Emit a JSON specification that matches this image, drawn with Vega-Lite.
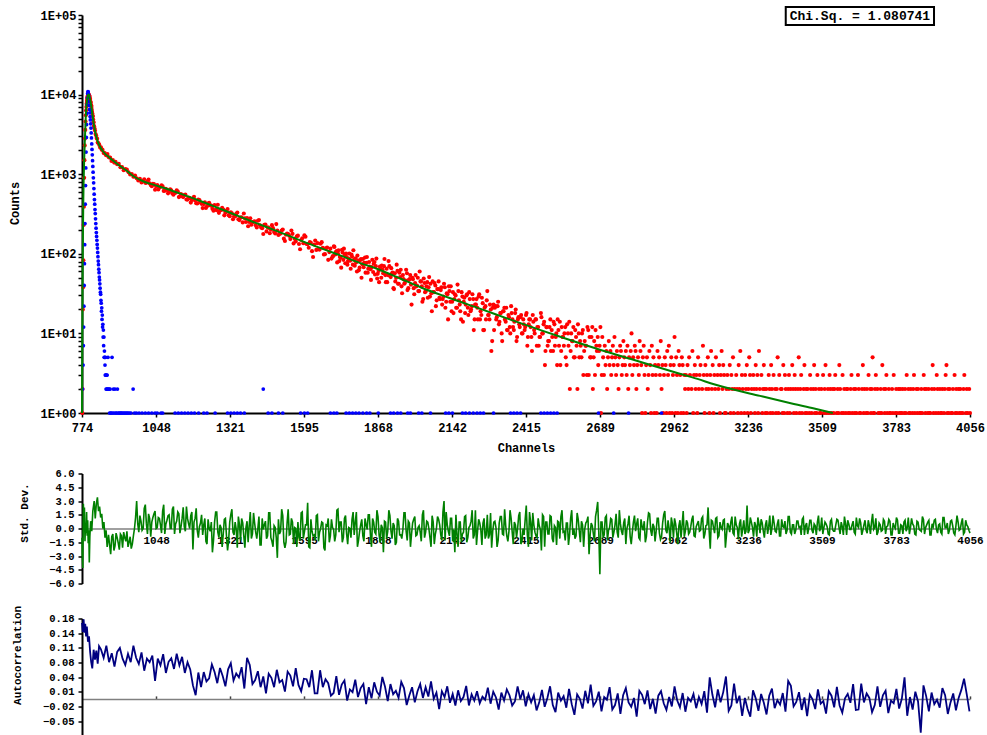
{
"$schema":"https://vega.github.io/schema/vega-lite/v6.json",
"background":"white",
"padding":{"left":8,"top":6,"right":2,"bottom":0},
"config":{"view":{"stroke":null},"font":"Liberation Mono",
"axis":{"labelFont":"Liberation Mono","titleFont":"Liberation Mono","labelFontWeight":"bold","titleFontWeight":"bold","labelColor":"#000000","titleColor":"#000000","domainColor":"#000000","tickColor":"#000000","grid":false,"labelOverlap":false,"labelFlush":false}},
"datasets":{
"decay":[{"c":775,"n":1},{"c":776,"n":2},{"c":777,"n":20},{"c":778,"n":38},{"c":779,"n":83},{"c":780,"n":230},{"c":781,"n":390},{"c":782,"n":900},{"c":783,"n":1500},{"c":784,"n":2300},{"c":785,"n":2800},{"c":786,"n":3600},{"c":787,"n":4600},{"c":788,"n":5500},{"c":789,"n":6300},{"c":790,"n":7000},{"c":791,"n":7700},{"c":792,"n":8300},{"c":793,"n":8800},{"c":794,"n":9200},{"c":795,"n":9500},{"c":796,"n":9800},{"c":797,"n":9900},{"c":798,"n":10100},{"c":799,"n":9950},{"c":800,"n":9800},{"c":801,"n":9700},{"c":802,"n":9370},{"c":803,"n":8950},{"c":804,"n":8820},{"c":805,"n":8200},{"c":806,"n":8020},{"c":807,"n":7450},{"c":808,"n":7350},{"c":809,"n":7000},{"c":810,"n":6470},{"c":811,"n":6100},{"c":812,"n":5840},{"c":813,"n":5450},{"c":814,"n":5330},{"c":815,"n":4900},{"c":816,"n":4540},{"c":817,"n":4460},{"c":818,"n":4060},{"c":819,"n":3970},{"c":820,"n":3790},{"c":822,"n":3550},{"c":824,"n":3200},{"c":826,"n":3080},{"c":828,"n":2840},{"c":830,"n":2780},{"c":832,"n":2500},{"c":835,"n":2440},{"c":838,"n":2335},{"c":841,"n":2160},{"c":844,"n":2180},{"c":847,"n":2030},{"c":850,"n":2020},{"c":854,"n":1840},{"c":858,"n":1840},{"c":863,"n":1735},{"c":868,"n":1790},{"c":873,"n":1635},{"c":878,"n":1615},{"c":883,"n":1465},{"c":888,"n":1505},{"c":893,"n":1400},{"c":898,"n":1427},{"c":904,"n":1332},{"c":910,"n":1348},{"c":916,"n":1222},{"c":922,"n":1228},{"c":928,"n":1122},{"c":934,"n":1160},{"c":940,"n":1140},{"c":946,"n":1058},{"c":952,"n":991},{"c":958,"n":1005},{"c":964,"n":928},{"c":970,"n":964},{"c":976,"n":890},{"c":982,"n":835},{"c":988,"n":873},{"c":994,"n":789},{"c":1000,"n":825},
{"c":1008,"n":779},{"c":1016,"n":817},{"c":1024,"n":769},{"c":1032,"n":705},{"c":1040,"n":750},{"c":1048,"n":701},{"c":1056,"n":644},{"c":1064,"n":694},{"c":1072,"n":702},{"c":1080,"n":620},{"c":1088,"n":632},{"c":1096,"n":602},{"c":1104,"n":626},{"c":1112,"n":551},{"c":1120,"n":586},{"c":1128,"n":607},{"c":1136,"n":529},{"c":1144,"n":530},{"c":1152,"n":548},{"c":1160,"n":481},{"c":1168,"n":508},{"c":1176,"n":440},{"c":1184,"n":492},{"c":1192,"n":468},{"c":1200,"n":429},{"c":1208,"n":474},{"c":1216,"n":424},{"c":1224,"n":421},{"c":1232,"n":377},{"c":1240,"n":428},{"c":1248,"n":406},{"c":1256,"n":367},{"c":1264,"n":411},{"c":1272,"n":354},{"c":1280,"n":327},{"c":1288,"n":356},{"c":1296,"n":359},{"c":1304,"n":329},{"c":1312,"n":366},{"c":1320,"n":296},{"c":1328,"n":323},{"c":1336,"n":295},{"c":1344,"n":319},{"c":1352,"n":271},{"c":1360,"n":286},{"c":1368,"n":248},{"c":1376,"n":279},{"c":1384,"n":282},{"c":1392,"n":251},{"c":1400,"n":232},{"c":1408,"n":253},{"c":1416,"n":228},{"c":1424,"n":260},{"c":1432,"n":228},{"c":1440,"n":210},{"c":1448,"n":231},{"c":1456,"n":191},{"c":1464,"n":212},{"c":1472,"n":201},{"c":1480,"n":210},{"c":1488,"n":180},{"c":1496,"n":196},{"c":1504,"n":178},{"c":1512,"n":196},{"c":1520,"n":155},{"c":1528,"n":174},{"c":1536,"n":177},{"c":1544,"n":153},{"c":1552,"n":178},{"c":1560,"n":154},{"c":1568,"n":166},{"c":1576,"n":133},{"c":1584,"n":149},{"c":1592,"n":136},{"c":1600,"n":164},{"c":1608,"n":132},{"c":1616,"n":140},{"c":1624,"n":108},{"c":1632,"n":131},{"c":1640,"n":112},{"c":1648,"n":114},{"c":1656,"n":134},{"c":1664,"n":119},{"c":1672,"n":99},{"c":1680,"n":120},{"c":1688,"n":105},{"c":1696,"n":87},
{"c":1004,"n":861},{"c":1012,"n":781},{"c":1020,"n":857},{"c":1028,"n":734},{"c":1036,"n":756},{"c":1044,"n":637},{"c":1052,"n":731},{"c":1060,"n":682},{"c":1068,"n":726},{"c":1076,"n":617},{"c":1084,"n":653},{"c":1092,"n":575},{"c":1100,"n":645},{"c":1108,"n":574},{"c":1116,"n":582},{"c":1124,"n":628},{"c":1132,"n":516},{"c":1140,"n":563},{"c":1148,"n":516},{"c":1156,"n":554},{"c":1164,"n":480},{"c":1172,"n":501},{"c":1180,"n":473},{"c":1188,"n":521},{"c":1196,"n":432},{"c":1204,"n":479},{"c":1212,"n":441},{"c":1220,"n":375},{"c":1228,"n":443},{"c":1236,"n":396},{"c":1244,"n":438},{"c":1252,"n":403},{"c":1260,"n":348},{"c":1268,"n":357},{"c":1276,"n":413},{"c":1284,"n":350},{"c":1292,"n":379},{"c":1300,"n":304},{"c":1308,"n":346},{"c":1316,"n":306},{"c":1324,"n":333},{"c":1332,"n":272},{"c":1340,"n":294},{"c":1348,"n":330},{"c":1356,"n":265},{"c":1364,"n":288},{"c":1372,"n":321},{"c":1380,"n":251},{"c":1388,"n":222},{"c":1396,"n":280},{"c":1404,"n":248},{"c":1412,"n":256},{"c":1420,"n":214},{"c":1428,"n":266},{"c":1436,"n":214},{"c":1444,"n":177},{"c":1452,"n":233},{"c":1460,"n":215},{"c":1468,"n":181},{"c":1476,"n":229},{"c":1484,"n":188},{"c":1492,"n":236},{"c":1500,"n":172},{"c":1508,"n":180},{"c":1516,"n":202},{"c":1524,"n":145},{"c":1532,"n":179},{"c":1540,"n":168},{"c":1548,"n":196},{"c":1556,"n":135},{"c":1564,"n":143},{"c":1572,"n":169},{"c":1580,"n":114},{"c":1588,"n":157},{"c":1596,"n":171},{"c":1604,"n":133},{"c":1612,"n":119},{"c":1620,"n":137},{"c":1628,"n":91},{"c":1636,"n":147},{"c":1644,"n":136},{"c":1652,"n":113},{"c":1660,"n":140},{"c":1668,"n":98},{"c":1676,"n":117},{"c":1684,"n":84},{"c":1692,"n":116},
{"c":1700,"n":92},{"c":1705,"n":124},{"c":1710,"n":98},{"c":1715,"n":108},{"c":1720,"n":101},{"c":1725,"n":81},{"c":1730,"n":89},{"c":1735,"n":112},{"c":1740,"n":84},{"c":1745,"n":98},{"c":1750,"n":101},{"c":1755,"n":73},{"c":1760,"n":87},{"c":1765,"n":82},{"c":1770,"n":98},{"c":1775,"n":73},{"c":1780,"n":84},{"c":1785,"n":88},{"c":1790,"n":60},{"c":1795,"n":82},{"c":1800,"n":67},{"c":1805,"n":86},{"c":1810,"n":74},{"c":1815,"n":68},{"c":1820,"n":90},{"c":1825,"n":77},{"c":1830,"n":58},{"c":1835,"n":79},{"c":1840,"n":64},{"c":1845,"n":68},{"c":1850,"n":59},{"c":1855,"n":79},{"c":1860,"n":70},{"c":1865,"n":49},{"c":1870,"n":61},{"c":1875,"n":69},{"c":1880,"n":50},{"c":1885,"n":63},{"c":1890,"n":70},{"c":1895,"n":54},{"c":1900,"n":65},{"c":1905,"n":54},{"c":1910,"n":70},{"c":1915,"n":51},{"c":1920,"n":57},{"c":1925,"n":37},{"c":1930,"n":57},{"c":1935,"n":50},{"c":1940,"n":61},{"c":1945,"n":42},{"c":1950,"n":51},{"c":1955,"n":39},{"c":1960,"n":54},{"c":1965,"n":42},{"c":1970,"n":46},{"c":1975,"n":57},{"c":1980,"n":37},{"c":1985,"n":48},{"c":1990,"n":41},{"c":1995,"n":50},{"c":2000,"n":37},{"c":2005,"n":43},{"c":2010,"n":39},{"c":2015,"n":50},{"c":2020,"n":34},{"c":2025,"n":45},{"c":2030,"n":39},{"c":2035,"n":27},{"c":2040,"n":43},{"c":2045,"n":34},{"c":2050,"n":44},{"c":2055,"n":38},{"c":2060,"n":29},{"c":2065,"n":32},{"c":2070,"n":45},{"c":2075,"n":33},{"c":2080,"n":40},{"c":2085,"n":26},{"c":2090,"n":36},{"c":2095,"n":28},{"c":2100,"n":35},{"c":2105,"n":23},{"c":2110,"n":29},{"c":2115,"n":38},{"c":2120,"n":25},{"c":2125,"n":31},{"c":2130,"n":39},{"c":2135,"n":25},{"c":2140,"n":19},{"c":2145,"n":33},{"c":2150,"n":27},{"c":2155,"n":30},{"c":2160,"n":21},{"c":2165,"n":34},{"c":2170,"n":23},{"c":2175,"n":15},{"c":2180,"n":29},{"c":2185,"n":25},{"c":2190,"n":18},{"c":2195,"n":30},{"c":2200,"n":21},{"c":2205,"n":33},{"c":2210,"n":19},{"c":2215,"n":22},{"c":2220,"n":27},{"c":2225,"n":15},{"c":2230,"n":23},{"c":2235,"n":21},{"c":2240,"n":29},{"c":2245,"n":15},{"c":2250,"n":17},{"c":2255,"n":24},{"c":2260,"n":11},{"c":2265,"n":22},{"c":2270,"n":26},{"c":2275,"n":17},{"c":2280,"n":15},{"c":2285,"n":20},{"c":2290,"n":8},{"c":2295,"n":23},
{"c":1702,"n":94},{"c":1707,"n":122},{"c":1712,"n":105},{"c":1717,"n":78},{"c":1722,"n":111},{"c":1727,"n":91},{"c":1732,"n":67},{"c":1737,"n":104},{"c":1742,"n":116},{"c":1747,"n":76},{"c":1752,"n":91},{"c":1757,"n":81},{"c":1762,"n":101},{"c":1767,"n":65},{"c":1772,"n":92},{"c":1777,"n":111},{"c":1782,"n":71},{"c":1787,"n":78},{"c":1792,"n":95},{"c":1797,"n":62},{"c":1802,"n":83},{"c":1807,"n":50},{"c":1812,"n":86},{"c":1817,"n":77},{"c":1822,"n":58},{"c":1827,"n":91},{"c":1832,"n":65},{"c":1837,"n":69},{"c":1842,"n":47},{"c":1847,"n":84},{"c":1852,"n":75},{"c":1857,"n":55},{"c":1862,"n":87},{"c":1867,"n":56},{"c":1872,"n":44},{"c":1877,"n":65},{"c":1882,"n":71},{"c":1887,"n":57},{"c":1892,"n":86},{"c":1897,"n":44},{"c":1902,"n":44},{"c":1907,"n":81},{"c":1912,"n":53},{"c":1917,"n":66},{"c":1922,"n":58},{"c":1927,"n":36},{"c":1932,"n":45},{"c":1937,"n":73},{"c":1942,"n":42},{"c":1947,"n":58},{"c":1952,"n":63},{"c":1957,"n":32},{"c":1962,"n":48},{"c":1967,"n":43},{"c":1972,"n":63},{"c":1977,"n":35},{"c":1982,"n":47},{"c":1987,"n":54},{"c":1992,"n":23},{"c":1997,"n":48},{"c":2002,"n":31},{"c":2007,"n":54},{"c":2012,"n":40},{"c":2017,"n":34},{"c":2022,"n":60},{"c":2027,"n":45},{"c":2032,"n":25},{"c":2037,"n":49},{"c":2042,"n":33},{"c":2047,"n":39},{"c":2052,"n":28},{"c":2057,"n":51},{"c":2062,"n":42},{"c":2067,"n":19},{"c":2072,"n":33},{"c":2077,"n":43},{"c":2082,"n":22},{"c":2087,"n":36},{"c":2092,"n":45},{"c":2097,"n":27},{"c":2102,"n":38},{"c":2107,"n":27},{"c":2112,"n":42},{"c":2117,"n":21},{"c":2122,"n":32},{"c":2127,"n":15},{"c":2132,"n":34},{"c":2137,"n":39},{"c":2142,"n":25},{"c":2147,"n":18},{"c":2152,"n":31},{"c":2157,"n":21},{"c":2162,"n":41},{"c":2167,"n":26},{"c":2172,"n":19},{"c":2177,"n":33},{"c":2182,"n":14},{"c":2187,"n":28},{"c":2192,"n":23},{"c":2197,"n":31},{"c":2202,"n":17},{"c":2207,"n":27},{"c":2212,"n":20},{"c":2217,"n":31},{"c":2222,"n":11},{"c":2227,"n":23},{"c":2232,"n":27},{"c":2237,"n":15},{"c":2242,"n":31},{"c":2247,"n":19},{"c":2252,"n":28},{"c":2257,"n":11},{"c":2262,"n":21},{"c":2267,"n":15},{"c":2272,"n":34},{"c":2277,"n":17},{"c":2282,"n":23},{"c":2287,"n":6},{"c":2292,"n":21},{"c":2297,"n":11},
{"c":2300,"n":21},{"c":2302,"n":22},{"c":2305,"n":15},{"c":2307,"n":16},{"c":2310,"n":22},{"c":2312,"n":25},{"c":2315,"n":13},{"c":2317,"n":14},{"c":2320,"n":18},{"c":2322,"n":18},{"c":2325,"n":10},{"c":2327,"n":8},{"c":2330,"n":19},{"c":2332,"n":19},{"c":2335,"n":21},{"c":2337,"n":15},{"c":2340,"n":14},{"c":2342,"n":21},{"c":2345,"n":11},{"c":2347,"n":11},{"c":2350,"n":17},{"c":2352,"n":16},{"c":2355,"n":12},{"c":2357,"n":10},{"c":2360,"n":22},{"c":2362,"n":18},{"c":2365,"n":15},{"c":2367,"n":12},{"c":2370,"n":11},{"c":2372,"n":14},{"c":2375,"n":18},{"c":2377,"n":20},{"c":2380,"n":8},{"c":2382,"n":9},{"c":2385,"n":15},{"c":2387,"n":16},{"c":2390,"n":13},{"c":2392,"n":12},{"c":2395,"n":16},{"c":2397,"n":17},{"c":2400,"n":10},{"c":2402,"n":10},{"c":2405,"n":15},{"c":2407,"n":13},{"c":2410,"n":11},{"c":2412,"n":12},{"c":2415,"n":17},{"c":2417,"n":18},{"c":2420,"n":7},{"c":2422,"n":9},{"c":2425,"n":13},{"c":2427,"n":15},{"c":2430,"n":15},{"c":2432,"n":12},{"c":2435,"n":9},{"c":2437,"n":6},{"c":2440,"n":17},{"c":2442,"n":14},{"c":2445,"n":11},{"c":2447,"n":10},{"c":2450,"n":15},{"c":2452,"n":15},{"c":2455,"n":7},{"c":2457,"n":12},{"c":2460,"n":12},{"c":2462,"n":7},{"c":2465,"n":9},{"c":2467,"n":9},{"c":2470,"n":18},{"c":2472,"n":16},{"c":2475,"n":10},{"c":2477,"n":10},{"c":2480,"n":13},{"c":2482,"n":14},{"c":2485,"n":4},{"c":2487,"n":6},{"c":2490,"n":12},{"c":2492,"n":12},{"c":2495,"n":7},{"c":2497,"n":8},{"c":2500,"n":8},{"c":2502,"n":12},{"c":2505,"n":15},{"c":2507,"n":6},{"c":2510,"n":11},{"c":2512,"n":9},{"c":2515,"n":6},{"c":2517,"n":14},{"c":2520,"n":13},{"c":2522,"n":7},{"c":2525,"n":9},{"c":2527,"n":10},{"c":2530,"n":4},{"c":2532,"n":15},{"c":2535,"n":11},{"c":2537,"n":7},{"c":2540,"n":14},{"c":2542,"n":4},{"c":2545,"n":6},{"c":2547,"n":12},{"c":2550,"n":9},{"c":2552,"n":9},{"c":2555,"n":7},{"c":2557,"n":10},{"c":2560,"n":12},{"c":2562,"n":5},{"c":2565,"n":4},{"c":2567,"n":13},{"c":2570,"n":10},{"c":2572,"n":7},{"c":2575,"n":14},{"c":2577,"n":2},{"c":2580,"n":6},{"c":2582,"n":10},{"c":2585,"n":8},{"c":2587,"n":8},{"c":2590,"n":12},{"c":2592,"n":5},{"c":2595,"n":5},{"c":2597,"n":11},{"c":2600,"n":9},{"c":2602,"n":7},{"c":2605,"n":2},{"c":2607,"n":13},{"c":2610,"n":10},{"c":2612,"n":5},{"c":2615,"n":8},{"c":2617,"n":7},{"c":2620,"n":5},{"c":2622,"n":10},{"c":2625,"n":11},{"c":2627,"n":3},{"c":2630,"n":6},{"c":2632,"n":8},{"c":2635,"n":7},{"c":2637,"n":7},{"c":2640,"n":3},{"c":2642,"n":12},{"c":2645,"n":11},{"c":2647,"n":3},{"c":2650,"n":9},{"c":2652,"n":5},{"c":2655,"n":5},{"c":2657,"n":9},{"c":2660,"n":12},{"c":2662,"n":2},{"c":2665,"n":5},{"c":2667,"n":8},{"c":2670,"n":3},{"c":2672,"n":11},{"c":2675,"n":7},{"c":2677,"n":6},{"c":2680,"n":9},{"c":2682,"n":4},{"c":2685,"n":6},{"c":2687,"n":7},{"c":2690,"n":12},{"c":2692,"n":1},{"c":2695,"n":3},{"c":2697,"n":9},
{"c":2700,"n":5},{"c":2703,"n":3},{"c":2706,"n":7},{"c":2709,"n":4},{"c":2712,"n":6},{"c":2715,"n":2},{"c":2718,"n":5},{"c":2721,"n":8},{"c":2724,"n":4},{"c":2727,"n":6},{"c":2730,"n":3},{"c":2733,"n":5},{"c":2736,"n":7},{"c":2739,"n":4},{"c":2742,"n":9},{"c":2745,"n":5},{"c":2748,"n":3},{"c":2751,"n":6},{"c":2754,"n":4},{"c":2757,"n":2},{"c":2760,"n":5},{"c":2763,"n":7},{"c":2766,"n":6},{"c":2769,"n":3},{"c":2772,"n":4},{"c":2775,"n":8},{"c":2778,"n":5},{"c":2781,"n":4},{"c":2784,"n":6},{"c":2787,"n":3},{"c":2790,"n":7},{"c":2793,"n":2},{"c":2796,"n":5},{"c":2799,"n":4},{"c":2802,"n":6},{"c":2805,"n":10},{"c":2808,"n":3},{"c":2811,"n":5},{"c":2814,"n":4},{"c":2817,"n":7},{"c":2820,"n":6},{"c":2823,"n":2},{"c":2826,"n":4},{"c":2829,"n":5},{"c":2832,"n":3},{"c":2835,"n":8},{"c":2838,"n":6},{"c":2841,"n":4},{"c":2844,"n":1},{"c":2847,"n":5},{"c":2850,"n":7},
{"c":2853,"n":3},{"c":2856,"n":1},{"c":2859,"n":4},{"c":2862,"n":5},{"c":2865,"n":2},{"c":2868,"n":3},{"c":2871,"n":6},{"c":2874,"n":4},{"c":2877,"n":1},{"c":2880,"n":7},{"c":2883,"n":3},{"c":2886,"n":5},{"c":2889,"n":1},{"c":2892,"n":4},{"c":2895,"n":3},{"c":2898,"n":1},{"c":2901,"n":6},{"c":2904,"n":4},{"c":2907,"n":5},{"c":2910,"n":3},{"c":2913,"n":8},{"c":2916,"n":2},{"c":2919,"n":4},{"c":2922,"n":1},{"c":2925,"n":3},{"c":2928,"n":5},{"c":2931,"n":4},{"c":2934,"n":1},{"c":2937,"n":6},{"c":2940,"n":3},{"c":2943,"n":7},{"c":2946,"n":1},{"c":2949,"n":4},{"c":2952,"n":5},{"c":2955,"n":1},{"c":2958,"n":3},{"c":2961,"n":4},{"c":2964,"n":9},{"c":2967,"n":1},{"c":2970,"n":5},{"c":2973,"n":3},{"c":2976,"n":1},{"c":2979,"n":6},{"c":2982,"n":4},{"c":2985,"n":3},{"c":2988,"n":1},{"c":2991,"n":5},{"c":2994,"n":4},{"c":2997,"n":1},{"c":3000,"n":3},
{"c":3003,"n":2},{"c":3006,"n":3},{"c":3009,"n":1},{"c":3012,"n":4},{"c":3015,"n":2},{"c":3018,"n":5},{"c":3021,"n":3},{"c":3027,"n":2},{"c":3030,"n":6},{"c":3033,"n":1},{"c":3036,"n":3},{"c":3039,"n":4},{"c":3042,"n":2},{"c":3045,"n":3},{"c":3048,"n":1},{"c":3051,"n":5},{"c":3054,"n":2},{"c":3057,"n":3},{"c":3060,"n":4},{"c":3066,"n":2},{"c":3069,"n":7},{"c":3072,"n":3},{"c":3075,"n":1},{"c":3078,"n":4},{"c":3081,"n":2},{"c":3084,"n":3},{"c":3087,"n":5},{"c":3090,"n":2},{"c":3093,"n":1},{"c":3096,"n":3},{"c":3099,"n":6},{"c":3102,"n":2},{"c":3105,"n":4},{"c":3108,"n":1},{"c":3111,"n":3},{"c":3114,"n":2},{"c":3117,"n":5},{"c":3123,"n":3},{"c":3126,"n":2},{"c":3129,"n":4},{"c":3132,"n":1},{"c":3135,"n":3},{"c":3138,"n":6},{"c":3141,"n":2},{"c":3144,"n":4},{"c":3147,"n":3},{"c":3150,"n":1},
{"c":3153,"n":1},{"c":3156,"n":2},{"c":3159,"n":3},{"c":3165,"n":2},{"c":3168,"n":4},{"c":3171,"n":1},{"c":3174,"n":3},{"c":3177,"n":2},{"c":3180,"n":5},{"c":3183,"n":1},{"c":3186,"n":2},{"c":3192,"n":3},{"c":3195,"n":2},{"c":3198,"n":1},{"c":3201,"n":4},{"c":3204,"n":2},{"c":3207,"n":6},{"c":3210,"n":1},{"c":3213,"n":3},{"c":3216,"n":2},{"c":3222,"n":1},{"c":3225,"n":3},{"c":3228,"n":2},{"c":3231,"n":4},{"c":3234,"n":1},{"c":3237,"n":2},{"c":3240,"n":5},{"c":3243,"n":3},{"c":3246,"n":1},{"c":3249,"n":2},{"c":3255,"n":3},{"c":3258,"n":2},{"c":3261,"n":1},{"c":3264,"n":4},{"c":3267,"n":2},{"c":3270,"n":3},{"c":3273,"n":1},{"c":3276,"n":6},{"c":3279,"n":2},{"c":3285,"n":3},{"c":3288,"n":1},{"c":3291,"n":2},{"c":3294,"n":4},{"c":3297,"n":2},{"c":3300,"n":1},
{"c":3303,"n":2},{"c":3306,"n":1},{"c":3312,"n":3},{"c":3315,"n":2},{"c":3318,"n":1},{"c":3321,"n":4},{"c":3324,"n":2},{"c":3327,"n":1},{"c":3330,"n":3},{"c":3336,"n":2},{"c":3339,"n":1},{"c":3342,"n":2},{"c":3345,"n":5},{"c":3348,"n":1},{"c":3351,"n":3},{"c":3357,"n":2},{"c":3360,"n":2},{"c":3363,"n":1},{"c":3366,"n":4},{"c":3369,"n":1},{"c":3372,"n":3},{"c":3375,"n":2},{"c":3381,"n":1},{"c":3384,"n":2},{"c":3387,"n":3},{"c":3390,"n":1},{"c":3393,"n":2},{"c":3399,"n":4},{"c":3402,"n":2},{"c":3405,"n":1},{"c":3408,"n":3},{"c":3411,"n":2},{"c":3414,"n":1},{"c":3420,"n":2},{"c":3423,"n":5},{"c":3426,"n":1},{"c":3429,"n":2},{"c":3432,"n":3},{"c":3435,"n":1},{"c":3441,"n":2},{"c":3444,"n":4},{"c":3447,"n":1},{"c":3450,"n":2},
{"c":3453,"n":1},{"c":3456,"n":2},{"c":3462,"n":1},{"c":3465,"n":3},{"c":3468,"n":2},{"c":3471,"n":1},{"c":3477,"n":2},{"c":3480,"n":4},{"c":3483,"n":1},{"c":3486,"n":2},{"c":3489,"n":1},{"c":3492,"n":3},{"c":3498,"n":2},{"c":3501,"n":1},{"c":3504,"n":1},{"c":3507,"n":2},{"c":3513,"n":3},{"c":3516,"n":1},{"c":3519,"n":2},{"c":3522,"n":4},{"c":3525,"n":1},{"c":3531,"n":2},{"c":3534,"n":1},{"c":3537,"n":3},{"c":3540,"n":2},{"c":3543,"n":1},{"c":3549,"n":2},{"c":3552,"n":1},{"c":3555,"n":2},{"c":3558,"n":3},{"c":3564,"n":1},{"c":3567,"n":2},{"c":3570,"n":1},{"c":3573,"n":4},{"c":3576,"n":2},{"c":3582,"n":1},{"c":3585,"n":3},{"c":3588,"n":1},{"c":3591,"n":2},{"c":3597,"n":1},{"c":3600,"n":2},
{"c":3603,"n":2},{"c":3606,"n":1},{"c":3612,"n":1},{"c":3615,"n":2},{"c":3618,"n":3},{"c":3621,"n":1},{"c":3627,"n":2},{"c":3630,"n":1},{"c":3633,"n":2},{"c":3636,"n":1},{"c":3642,"n":3},{"c":3645,"n":2},{"c":3648,"n":1},{"c":3651,"n":1},{"c":3657,"n":2},{"c":3660,"n":4},{"c":3663,"n":1},{"c":3666,"n":2},{"c":3672,"n":1},{"c":3675,"n":2},{"c":3678,"n":1},{"c":3681,"n":3},{"c":3687,"n":2},{"c":3690,"n":1},{"c":3693,"n":2},{"c":3696,"n":5},{"c":3699,"n":1},{"c":3702,"n":1},{"c":3705,"n":2},{"c":3708,"n":3},{"c":3714,"n":2},{"c":3717,"n":1},{"c":3723,"n":1},{"c":3726,"n":2},{"c":3729,"n":1},{"c":3732,"n":4},{"c":3738,"n":2},{"c":3741,"n":1},{"c":3744,"n":2},{"c":3747,"n":3},{"c":3750,"n":1},{"c":3756,"n":2},{"c":3759,"n":1},{"c":3762,"n":1},{"c":3768,"n":2},{"c":3771,"n":1},{"c":3774,"n":3},{"c":3780,"n":1},{"c":3783,"n":2},{"c":3786,"n":1},{"c":3792,"n":2},{"c":3795,"n":1},{"c":3798,"n":2},{"c":3801,"n":1},
{"c":3804,"n":1},{"c":3807,"n":2},{"c":3813,"n":1},{"c":3816,"n":2},{"c":3819,"n":1},{"c":3822,"n":3},{"c":3828,"n":2},{"c":3831,"n":1},{"c":3834,"n":1},{"c":3837,"n":2},{"c":3843,"n":1},{"c":3846,"n":2},{"c":3849,"n":3},{"c":3852,"n":1},{"c":3858,"n":2},{"c":3861,"n":1},{"c":3864,"n":2},{"c":3870,"n":1},{"c":3873,"n":1},{"c":3876,"n":2},{"c":3879,"n":1},{"c":3885,"n":3},{"c":3888,"n":2},{"c":3891,"n":1},{"c":3894,"n":2},{"c":3900,"n":1},{"c":3903,"n":2},{"c":3906,"n":1},{"c":3909,"n":1},{"c":3915,"n":2},{"c":3918,"n":4},{"c":3921,"n":1},{"c":3924,"n":2},{"c":3930,"n":1},{"c":3933,"n":3},{"c":3936,"n":2},{"c":3939,"n":1},{"c":3945,"n":2},{"c":3948,"n":1},{"c":3951,"n":1},{"c":3954,"n":2},{"c":3960,"n":1},{"c":3963,"n":2},{"c":3966,"n":3},{"c":3969,"n":4},{"c":3972,"n":1},{"c":3975,"n":2},{"c":3978,"n":1},{"c":3981,"n":2},{"c":3987,"n":1},{"c":3990,"n":1},{"c":3993,"n":2},{"c":3999,"n":3},{"c":4002,"n":1},{"c":4005,"n":2},{"c":4008,"n":1},{"c":4014,"n":2},{"c":4017,"n":1},{"c":4020,"n":2},{"c":4023,"n":1},{"c":4029,"n":1},{"c":4032,"n":2},{"c":4035,"n":3},{"c":4041,"n":1},{"c":4044,"n":2},{"c":4047,"n":1},{"c":4053,"n":2},{"c":4056,"n":1}],
"irf":[{"c":776,"n":2},{"c":778,"n":4},{"c":779,"n":7},{"c":780,"n":12},{"c":781,"n":22},{"c":782,"n":40},{"c":783,"n":75},{"c":784,"n":130},{"c":785,"n":240},{"c":786,"n":420},{"c":787,"n":720},{"c":788,"n":1200},{"c":789,"n":1900},{"c":790,"n":2900},{"c":791,"n":4200},{"c":792,"n":5800},{"c":793,"n":7500},{"c":794,"n":9100},{"c":795,"n":10300},{"c":796,"n":10900},{"c":797,"n":10800},{"c":798,"n":10100},{"c":799,"n":9300},{"c":800,"n":8200},{"c":801,"n":7300},{"c":802,"n":6500},{"c":803,"n":5900},{"c":804,"n":5300},{"c":805,"n":4800},{"c":806,"n":4300},{"c":807,"n":3800},{"c":808,"n":3300},{"c":809,"n":2850},{"c":810,"n":2400},{"c":811,"n":2050},{"c":812,"n":1750},{"c":813,"n":1480},{"c":814,"n":1250},{"c":815,"n":1060},{"c":816,"n":900},{"c":817,"n":780},{"c":818,"n":660},{"c":819,"n":560},{"c":820,"n":480},{"c":821,"n":420},{"c":822,"n":360},{"c":823,"n":320},{"c":824,"n":275},{"c":825,"n":240},{"c":826,"n":210},{"c":827,"n":185},{"c":828,"n":165},{"c":829,"n":148},{"c":830,"n":131},{"c":831,"n":118},{"c":832,"n":104},{"c":833,"n":92},{"c":834,"n":81},{"c":835,"n":73},{"c":836,"n":64},{"c":837,"n":58},{"c":838,"n":51},{"c":839,"n":47},{"c":840,"n":42},{"c":841,"n":37},{"c":842,"n":33},{"c":843,"n":31},{"c":844,"n":26},{"c":845,"n":24},{"c":846,"n":19},{"c":847,"n":21},{"c":848,"n":15},{"c":849,"n":17},{"c":850,"n":12},{"c":851,"n":13},{"c":852,"n":9},{"c":853,"n":11},{"c":854,"n":7},{"c":855,"n":9},{"c":856,"n":5},{"c":857,"n":6},{"c":858,"n":5},{"c":859,"n":4},{"c":860,"n":3},{"c":861,"n":5},{"c":862,"n":3},{"c":863,"n":2},{"c":864,"n":3},{"c":866,"n":2},{"c":867,"n":3},{"c":868,"n":2},{"c":870,"n":5},{"c":872,"n":2},{"c":874,"n":2},{"c":876,"n":1},{"c":878,"n":2},{"c":880,"n":1},{"c":883,"n":1},{"c":885,"n":5},{"c":888,"n":1},{"c":890,"n":2},{"c":893,"n":1},{"c":896,"n":2},{"c":899,"n":1},{"c":902,"n":1},{"c":905,"n":2},{"c":908,"n":1},{"c":911,"n":1},{"c":915,"n":1},{"c":918,"n":1},{"c":921,"n":1},{"c":925,"n":1},{"c":929,"n":1},{"c":933,"n":1},{"c":937,"n":1},{"c":941,"n":1},{"c":945,"n":1},{"c":950,"n":1},{"c":955,"n":1},{"c":963,"n":2},{"c":968,"n":1},{"c":975,"n":1},{"c":985,"n":1},{"c":996,"n":1},{"c":1008,"n":1},{"c":1020,"n":1},{"c":1032,"n":1},{"c":1044,"n":1},{"c":1052,"n":1},{"c":1066,"n":1},{"c":1072,"n":1},{"c":1118,"n":1},{"c":1130,"n":1},{"c":1142,"n":1},{"c":1154,"n":1},{"c":1166,"n":1},{"c":1178,"n":1},{"c":1190,"n":1},{"c":1205,"n":1},{"c":1224,"n":1},{"c":1236,"n":1},{"c":1266,"n":1},{"c":1312,"n":1},{"c":1324,"n":1},{"c":1336,"n":1},{"c":1348,"n":1},{"c":1360,"n":1},{"c":1374,"n":1},{"c":1444,"n":2},{"c":1462,"n":1},{"c":1476,"n":1},{"c":1500,"n":1},{"c":1516,"n":1},{"c":1582,"n":1},{"c":1596,"n":1},{"c":1608,"n":1},{"c":1692,"n":1},{"c":1705,"n":1},{"c":1716,"n":1},{"c":1750,"n":1},{"c":1762,"n":1},{"c":1774,"n":1},{"c":1786,"n":1},{"c":1798,"n":1},{"c":1812,"n":1},{"c":1826,"n":1},{"c":1838,"n":1},{"c":1869,"n":1},{"c":1914,"n":1},{"c":1926,"n":1},{"c":1940,"n":1},{"c":1952,"n":1},{"c":1978,"n":1},{"c":1988,"n":1},{"c":2018,"n":1},{"c":2030,"n":1},{"c":2062,"n":1},{"c":2118,"n":1},{"c":2130,"n":1},{"c":2143,"n":1},{"c":2180,"n":1},{"c":2192,"n":1},{"c":2206,"n":1},{"c":2220,"n":1},{"c":2234,"n":1},{"c":2246,"n":1},{"c":2258,"n":1},{"c":2295,"n":1},{"c":2358,"n":1},{"c":2370,"n":1},{"c":2382,"n":1},{"c":2395,"n":1},{"c":2470,"n":1},{"c":2482,"n":1},{"c":2494,"n":1},{"c":2506,"n":1},{"c":2518,"n":1},{"c":2530,"n":1},{"c":2683,"n":1},{"c":2739,"n":1},{"c":2794,"n":1},{"c":2916,"n":1}],
"fit":[{"c":774,"n":1},{"c":775,"n":8},{"c":776,"n":40},{"c":777,"n":120},{"c":778,"n":260},{"c":779,"n":500},{"c":780,"n":800},{"c":782,"n":1500},{"c":784,"n":2400},{"c":786,"n":3600},{"c":788,"n":5300},{"c":790,"n":7000},{"c":792,"n":8300},{"c":794,"n":9200},{"c":796,"n":9800},{"c":798,"n":10000},{"c":800,"n":9900},{"c":802,"n":9300},{"c":804,"n":8700},{"c":806,"n":8000},{"c":808,"n":7300},{"c":810,"n":6500},{"c":812,"n":5800},{"c":814,"n":5200},{"c":816,"n":4600},{"c":818,"n":4150},{"c":820,"n":3800},{"c":824,"n":3250},{"c":828,"n":2870},{"c":832,"n":2580},{"c":838,"n":2300},{"c":844,"n":2110},{"c":850,"n":1970},{"c":858,"n":1830},{"c":868,"n":1700},{"c":878,"n":1590},{"c":888,"n":1490},{"c":900,"n":1380},{"c":916,"n":1260},{"c":937,"n":1120},{"c":963,"n":950},{"c":1000,"n":815},{"c":1040,"n":735},{"c":1089,"n":652},{"c":1150,"n":550},{"c":1211,"n":461},{"c":1270,"n":385},{"c":1333,"n":316},{"c":1407,"n":251},{"c":1500,"n":190},{"c":1595,"n":141},{"c":1700,"n":104},{"c":1800,"n":77},{"c":1869,"n":64},{"c":1950,"n":49},{"c":2025,"n":38},{"c":2130,"n":28},{"c":2247,"n":20.3},{"c":2360,"n":14.8},{"c":2469,"n":11},{"c":2580,"n":8.2},{"c":2691,"n":6.2},{"c":2800,"n":4.8},{"c":2913,"n":3.67},{"c":3030,"n":2.8},{"c":3146,"n":2.12},{"c":3280,"n":1.64},{"c":3405,"n":1.3},{"c":3480,"n":1.14},{"c":3549,"n":1}],
"resid":[{"c":774,"r":-1.0},{"c":775,"r":-2.8},{"c":777,"r":-4.3},{"c":779,"r":2.7},{"c":781,"r":1.2},{"c":783,"r":2.3},{"c":785,"r":-1.4},{"c":787,"r":0.6},{"c":789,"r":-0.5},{"c":791,"r":1.8},{"c":793,"r":-0.8},{"c":795,"r":0.9},{"c":797,"r":-1.6},{"c":799,"r":-0.2},{"c":801,"r":-3.7},{"c":803,"r":-0.9},{"c":806,"r":0.8},{"c":810,"r":-0.3},{"c":814,"r":1.9},{"c":819,"r":3.0},{"c":823,"r":1.1},{"c":827,"r":2.7},{"c":831,"r":3.4},{"c":835,"r":1.9},{"c":839,"r":2.4},{"c":843,"r":1.2},{"c":847,"r":1.6},{"c":851,"r":0.0},{"c":855,"r":0.7},{"c":859,"r":-1.0},{"c":863,"r":-0.2},{"c":867,"r":-2.0},{"c":872,"r":-0.7},{"c":880,"r":-2.8},{"c":888,"r":-0.6},{"c":896,"r":-1.9},{"c":904,"r":-1.0},{"c":912,"r":-2.3},{"c":920,"r":-0.8},{"c":928,"r":-0.4},{"c":936,"r":-1.4},{"c":944,"r":-2.0},{"c":952,"r":-0.9},{"c":960,"r":-1.7},{"c":968,"r":0.0},{"c":976,"r":3.0},{"c":984,"r":-0.4},
{"c":876,"r":-1.8},{"c":884,"r":-0.9},{"c":892,"r":-2.4},{"c":900,"r":-0.5},{"c":908,"r":-1.6},{"c":916,"r":-0.6},{"c":924,"r":-2.1},{"c":932,"r":-1.0},{"c":940,"r":-0.3},{"c":948,"r":-1.5},{"c":956,"r":-2.2},{"c":964,"r":-0.8},{"c":972,"r":1.2},{"c":980,"r":0.5},{"c":988,"r":1.4},
{"c":992,"r":0.8},{"c":1000,"r":0.0},{"c":1008,"r":2.6},{"c":1016,"r":-0.6},{"c":1024,"r":1.1},{"c":1032,"r":0.7},{"c":1040,"r":1.6},{"c":1048,"r":0.0},{"c":1056,"r":1.2},{"c":1064,"r":0.4},{"c":1072,"r":1.9},{"c":1080,"r":-0.6},{"c":1088,"r":0.9},{"c":1096,"r":1.5},{"c":1104,"r":0.0},{"c":1112,"r":2.4},{"c":1120,"r":0.5},{"c":1128,"r":1.8},{"c":1136,"r":-0.5},{"c":1144,"r":1.1},{"c":1152,"r":0.2},{"c":1160,"r":2.4},{"c":1168,"r":0.5},{"c":1176,"r":1.4},{"c":1184,"r":-2.3},{"c":1192,"r":1.1},{"c":1200,"r":-0.2},{"c":1208,"r":0.2},
{"c":996,"r":-0.2},{"c":1004,"r":2.2},{"c":1012,"r":0.5},{"c":1020,"r":1.6},{"c":1028,"r":-0.9},{"c":1036,"r":1.2},{"c":1044,"r":1.9},{"c":1052,"r":0.1},{"c":1060,"r":1.1},{"c":1068,"r":-0.5},{"c":1076,"r":2.6},{"c":1084,"r":0.5},{"c":1092,"r":1.4},{"c":1100,"r":0.0},{"c":1108,"r":2.1},{"c":1116,"r":-0.6},{"c":1124,"r":0.8},{"c":1132,"r":1.6},{"c":1140,"r":0.2},{"c":1148,"r":2.3},{"c":1156,"r":-0.3},{"c":1164,"r":1.1},{"c":1172,"r":0.0},{"c":1180,"r":1.8},{"c":1188,"r":0.7},{"c":1196,"r":2.2},{"c":1204,"r":-1.0},
{"c":1216,"r":1.5},{"c":1224,"r":0.4},{"c":1232,"r":-1.4},{"c":1240,"r":1.0},{"c":1248,"r":-0.3},{"c":1256,"r":-2.6},{"c":1264,"r":0.7},{"c":1272,"r":1.8},{"c":1280,"r":-1.0},{"c":1288,"r":0.1},{"c":1296,"r":-0.6},{"c":1304,"r":1.1},{"c":1312,"r":-2.4},{"c":1320,"r":0.7},{"c":1328,"r":2.1},{"c":1336,"r":-0.7},{"c":1344,"r":-0.1},{"c":1352,"r":1.3},{"c":1360,"r":-1.3},{"c":1368,"r":0.6},{"c":1376,"r":-2.1},{"c":1384,"r":0.8},{"c":1392,"r":0.3},{"c":1400,"r":-1.1},{"c":1408,"r":1.7},{"c":1416,"r":-0.4},{"c":1424,"r":0.0},{"c":1432,"r":-1.8},
{"c":1440,"r":1.1},{"c":1448,"r":0.4},{"c":1456,"r":-1.1},{"c":1464,"r":1.7},{"c":1472,"r":-1.0},{"c":1480,"r":-2.0},{"c":1488,"r":0.1},{"c":1496,"r":-3.2},{"c":1504,"r":-0.6},{"c":1512,"r":2.1},{"c":1520,"r":-1.5},{"c":1528,"r":-1.5},{"c":1536,"r":2.1},{"c":1544,"r":-0.6},{"c":1552,"r":0.7},{"c":1560,"r":0.1},{"c":1568,"r":-2.0},{"c":1576,"r":-1.0},{"c":1584,"r":1.7},{"c":1592,"r":-1.1},{"c":1600,"r":0.4},{"c":1608,"r":2.8},{"c":1616,"r":-2.1},{"c":1624,"r":-0.3},{"c":1632,"r":-0.7},{"c":1640,"r":1.4},{"c":1648,"r":-1.4},{"c":1656,"r":0.0},{"c":1664,"r":0.6},{"c":1672,"r":-2.4},{"c":1680,"r":0.3},{"c":1688,"r":-1.5},{"c":1696,"r":1.0},
{"c":1704,"r":-0.1},{"c":1712,"r":-0.7},{"c":1720,"r":2.1},{"c":1728,"r":0.7},{"c":1736,"r":-1.5},{"c":1744,"r":1.1},{"c":1752,"r":-0.6},{"c":1760,"r":0.1},{"c":1768,"r":-1.0},{"c":1776,"r":1.8},{"c":1784,"r":0.7},{"c":1792,"r":-2.0},{"c":1800,"r":-0.3},{"c":1808,"r":1.0},{"c":1816,"r":-1.4},{"c":1824,"r":0.4},{"c":1832,"r":1.5},{"c":1840,"r":-0.7},{"c":1848,"r":1.1},{"c":1856,"r":-0.4},{"c":1864,"r":2.0},{"c":1872,"r":-0.7},{"c":1880,"r":0.4},{"c":1888,"r":-2.6},{"c":1896,"r":0.7},{"c":1904,"r":-0.3},{"c":1912,"r":1.4},{"c":1920,"r":-1.1},{"c":1928,"r":0.3},{"c":1936,"r":-1.5},{"c":1944,"r":0.8},{"c":1952,"r":-0.7},{"c":1960,"r":-0.1},{"c":1968,"r":1.7},{"c":1976,"r":-1.3},{"c":1984,"r":0.6},{"c":1992,"r":-0.6},{"c":2000,"r":1.0},{"c":2008,"r":-0.8},{"c":2016,"r":0.1},{"c":2024,"r":-0.4},{"c":2032,"r":1.5},{"c":2040,"r":-1.0},{"c":2048,"r":0.8},{"c":2056,"r":0.0},{"c":2064,"r":-2.0},{"c":2072,"r":0.7},{"c":2080,"r":-0.6},{"c":2088,"r":1.3},{"c":2096,"r":0.4},{"c":2104,"r":-1.3},{"c":2112,"r":3.0},{"c":2120,"r":1.8},{"c":2128,"r":-0.3},{"c":2136,"r":1.1},{"c":2144,"r":-1.4},{"c":2152,"r":-2.6},{"c":2160,"r":-0.7},
{"c":2168,"r":0.7},{"c":2176,"r":-1.5},{"c":2184,"r":-0.4},{"c":2192,"r":1.4},{"c":2200,"r":-1.0},{"c":2208,"r":0.3},{"c":2216,"r":2.0},{"c":2224,"r":-0.7},{"c":2232,"r":-1.8},{"c":2240,"r":1.0},{"c":2248,"r":-0.1},{"c":2256,"r":0.6},{"c":2264,"r":-1.1},{"c":2272,"r":1.5},{"c":2280,"r":-0.7},{"c":2288,"r":-2.1},{"c":2296,"r":0.7},{"c":2304,"r":0.1},{"c":2312,"r":-1.3},{"c":2320,"r":1.3},{"c":2328,"r":-0.6},{"c":2336,"r":2.1},{"c":2344,"r":-0.8},{"c":2352,"r":-0.3},{"c":2360,"r":1.1},{"c":2368,"r":-1.7},{"c":2376,"r":0.4},{"c":2384,"r":0.0},{"c":2392,"r":1.8},{"c":2400,"r":-1.4},{"c":2408,"r":-0.7},{"c":2416,"r":2.5},{"c":2424,"r":-2.0},{"c":2432,"r":0.7},{"c":2440,"r":1.7},{"c":2448,"r":-0.4},{"c":2456,"r":-1.0},{"c":2464,"r":0.3},{"c":2472,"r":-2.4},{"c":2480,"r":1.3},
{"c":2488,"r":0.7},{"c":2496,"r":-0.6},{"c":2504,"r":1.4},{"c":2512,"r":-1.1},{"c":2520,"r":0.3},{"c":2528,"r":-1.8},{"c":2536,"r":0.7},{"c":2544,"r":1.3},{"c":2552,"r":-0.4},{"c":2560,"r":-1.3},{"c":2568,"r":0.6},{"c":2576,"r":-0.7},{"c":2584,"r":2.0},{"c":2592,"r":0.0},{"c":2600,"r":-0.8},{"c":2608,"r":1.0},{"c":2616,"r":-1.5},{"c":2624,"r":0.4},{"c":2632,"r":-0.1},{"c":2640,"r":0.8},{"c":2648,"r":-2.8},{"c":2656,"r":0.6},{"c":2664,"r":-0.6},{"c":2672,"r":1.3},{"c":2680,"r":2.9},{"c":2688,"r":-5.0},{"c":2696,"r":0.7},
{"c":2704,"r":-0.7},{"c":2712,"r":1.4},{"c":2720,"r":-0.2},{"c":2728,"r":1.1},{"c":2736,"r":-1.0},{"c":2744,"r":0.4},{"c":2752,"r":-0.4},{"c":2760,"r":2.0},{"c":2768,"r":-0.3},{"c":2776,"r":0.6},{"c":2784,"r":-1.7},{"c":2792,"r":0.5},{"c":2800,"r":-0.9},{"c":2808,"r":-0.4},{"c":2816,"r":1.4},{"c":2824,"r":0.5},{"c":2832,"r":-1.0},{"c":2840,"r":1.0},{"c":2848,"r":-0.2},{"c":2856,"r":-1.5},{"c":2864,"r":0.7},{"c":2872,"r":1.6},{"c":2880,"r":-0.8},{"c":2888,"r":0.2},{"c":2896,"r":-0.3},{"c":2904,"r":1.1},{"c":2912,"r":-1.2},{"c":2920,"r":0.6},{"c":2928,"r":1.9},{"c":2936,"r":-0.5},{"c":2944,"r":0.0},{"c":2952,"r":1.2},{"c":2960,"r":-1.0},{"c":2968,"r":0.5},{"c":2976,"r":-1.7},{"c":2984,"r":0.9},{"c":2992,"r":0.4},{"c":3000,"r":-0.9},
{"c":3008,"r":0.9},{"c":3016,"r":-0.6},{"c":3024,"r":0.2},{"c":3032,"r":1.4},{"c":3040,"r":-0.9},{"c":3048,"r":0.5},{"c":3056,"r":-0.3},{"c":3064,"r":1.1},{"c":3072,"r":-1.1},{"c":3080,"r":0.3},{"c":3088,"r":2.3},{"c":3096,"r":-2.2},{"c":3104,"r":0.8},{"c":3112,"r":-0.5},{"c":3120,"r":1.2},{"c":3128,"r":-0.8},{"c":3136,"r":0.1},{"c":3144,"r":0.9},{"c":3152,"r":-2.1},{"c":3160,"r":0.6},{"c":3168,"r":-0.4},{"c":3176,"r":1.3},{"c":3184,"r":-0.7},{"c":3192,"r":0.4},{"c":3200,"r":-1.2},{"c":3208,"r":1.0},{"c":3216,"r":0.0},{"c":3224,"r":-0.6},{"c":3232,"r":2.5},{"c":3240,"r":-0.2},{"c":3248,"r":0.7},{"c":3256,"r":-0.9},{"c":3264,"r":0.3},{"c":3272,"r":1.2},{"c":3280,"r":-0.5},{"c":3288,"r":0.6},{"c":3296,"r":-1.0},{"c":3304,"r":0.9},{"c":3312,"r":0.2},{"c":3320,"r":-0.7},{"c":3328,"r":1.4},{"c":3336,"r":-0.3},{"c":3344,"r":0.5},{"c":3352,"r":-0.8},{"c":3360,"r":1.0},{"c":3368,"r":0.1},{"c":3376,"r":-0.6},{"c":3384,"r":1.3},{"c":3392,"r":-0.4},{"c":3400,"r":0.4},
{"c":3408,"r":-0.6},{"c":3416,"r":0.8},{"c":3424,"r":0.1},{"c":3432,"r":-0.7},{"c":3440,"r":1.2},{"c":3448,"r":0.3},{"c":3456,"r":-0.6},{"c":3464,"r":0.9},{"c":3472,"r":-0.2},{"c":3480,"r":0.5},{"c":3488,"r":-0.7},{"c":3496,"r":1.4},{"c":3504,"r":0.0},{"c":3512,"r":-0.6},{"c":3520,"r":0.7},{"c":3528,"r":0.2},{"c":3536,"r":-0.7},{"c":3544,"r":1.0},{"c":3552,"r":-0.3},{"c":3560,"r":0.4},{"c":3568,"r":0.9},{"c":3576,"r":-0.6},{"c":3584,"r":0.2},{"c":3592,"r":1.3},{"c":3600,"r":-0.7},{"c":3608,"r":0.5},{"c":3616,"r":-0.1},{"c":3624,"r":0.8},{"c":3632,"r":-0.6},{"c":3640,"r":0.3},{"c":3648,"r":1.1},{"c":3656,"r":-0.7},{"c":3664,"r":0.4},{"c":3672,"r":-0.2},{"c":3680,"r":0.9},{"c":3688,"r":-0.6},{"c":3696,"r":1.6},{"c":3704,"r":0.1},{"c":3712,"r":-0.7},{"c":3720,"r":0.6},{"c":3728,"r":-0.3},{"c":3736,"r":1.0},{"c":3744,"r":-0.6},{"c":3752,"r":0.3},{"c":3760,"r":0.8},{"c":3768,"r":-0.7},{"c":3776,"r":0.2},{"c":3784,"r":1.2},{"c":3792,"r":-0.5},{"c":3800,"r":0.4},
{"c":3808,"r":-0.6},{"c":3816,"r":0.9},{"c":3824,"r":0.1},{"c":3832,"r":-0.6},{"c":3840,"r":1.1},{"c":3848,"r":0.3},{"c":3856,"r":-0.7},{"c":3864,"r":0.7},{"c":3872,"r":-0.2},{"c":3880,"r":1.3},{"c":3888,"r":-0.6},{"c":3896,"r":0.4},{"c":3904,"r":0.9},{"c":3912,"r":-0.7},{"c":3920,"r":0.2},{"c":3928,"r":1.0},{"c":3936,"r":-0.5},{"c":3944,"r":0.5},{"c":3952,"r":-0.6},{"c":3960,"r":1.2},{"c":3968,"r":0.1},{"c":3976,"r":-0.6},{"c":3984,"r":0.8},{"c":3992,"r":0.3},{"c":4000,"r":-0.7},{"c":4008,"r":1.4},{"c":4016,"r":-0.2},{"c":4024,"r":0.6},{"c":4032,"r":-0.6},{"c":4040,"r":0.9},{"c":4048,"r":0.2},{"c":4056,"r":-0.5},
{"c":1212,"r":0.6},{"c":1220,"r":-0.7},{"c":1228,"r":1.1},{"c":1236,"r":-1.7},{"c":1244,"r":0.0},{"c":1252,"r":0.7},{"c":1260,"r":-1.3},{"c":1268,"r":1.8},{"c":1276,"r":-0.4},{"c":1284,"r":0.4},{"c":1292,"r":-2.0},{"c":1300,"r":1.0},{"c":1308,"r":-0.8},{"c":1316,"r":-1.3},{"c":1324,"r":1.5},{"c":1332,"r":-0.4},{"c":1340,"r":0.7},{"c":1348,"r":-2.1},{"c":1356,"r":0.4},{"c":1364,"r":1.1},{"c":1372,"r":-0.8},{"c":1380,"r":0.1},{"c":1388,"r":-1.5},{"c":1396,"r":1.8},{"c":1404,"r":-0.6},{"c":1412,"r":0.6},{"c":1420,"r":-1.1},{"c":1428,"r":1.3},{"c":1436,"r":-1.8},{"c":1444,"r":-0.1},{"c":1452,"r":0.8},{"c":1460,"r":-0.8},{"c":1468,"r":1.7},{"c":1476,"r":-1.4},{"c":1484,"r":0.3},{"c":1492,"r":-1.0},{"c":1500,"r":1.0},{"c":1508,"r":-0.3},{"c":1516,"r":1.4},{"c":1524,"r":-2.1},{"c":1532,"r":0.6},{"c":1540,"r":-0.7},{"c":1548,"r":1.1},{"c":1556,"r":-1.7},{"c":1564,"r":0.0},{"c":1572,"r":0.7},{"c":1580,"r":-1.3},{"c":1588,"r":1.8},{"c":1596,"r":-0.4},{"c":1604,"r":0.4},{"c":1612,"r":-2.0},{"c":1620,"r":1.0},{"c":1628,"r":-0.8},{"c":1636,"r":-1.3},{"c":1644,"r":1.5},{"c":1652,"r":-0.4},{"c":1660,"r":0.7},{"c":1668,"r":-2.1},{"c":1676,"r":0.4},{"c":1684,"r":1.1},{"c":1692,"r":-0.8},{"c":1700,"r":0.1},
{"c":1708,"r":-1.4},{"c":1716,"r":2.0},{"c":1724,"r":-0.4},{"c":1732,"r":0.7},{"c":1740,"r":-1.0},{"c":1748,"r":1.4},{"c":1756,"r":-1.7},{"c":1764,"r":0.0},{"c":1772,"r":1.0},{"c":1780,"r":-0.7},{"c":1788,"r":1.8},{"c":1796,"r":-1.3},{"c":1804,"r":0.4},{"c":1812,"r":-0.8},{"c":1820,"r":1.1},{"c":1828,"r":-0.1},{"c":1836,"r":1.5},{"c":1844,"r":-2.0},{"c":1852,"r":0.7},{"c":1860,"r":-0.6},{"c":1868,"r":1.3},{"c":1876,"r":-1.5},{"c":1884,"r":0.1},{"c":1892,"r":0.8},{"c":1900,"r":-1.1},{"c":1908,"r":2.0},{"c":1916,"r":-0.3},{"c":1924,"r":0.6},{"c":1932,"r":-1.8},{"c":1940,"r":1.1},{"c":1948,"r":-0.7},{"c":1956,"r":-1.1},{"c":1964,"r":1.7},{"c":1972,"r":-0.3},{"c":1980,"r":0.8},{"c":1988,"r":-2.0},{"c":1996,"r":0.6},{"c":2004,"r":1.3},{"c":2012,"r":-0.7},{"c":2020,"r":0.3},{"c":2028,"r":-1.4},{"c":2036,"r":2.0},{"c":2044,"r":-0.4},{"c":2052,"r":0.7},{"c":2060,"r":-1.0},{"c":2068,"r":1.4},{"c":2076,"r":-1.7},{"c":2084,"r":0.0},{"c":2092,"r":1.0},{"c":2100,"r":-0.7},{"c":2108,"r":1.8},{"c":2116,"r":-1.3},{"c":2124,"r":0.4},{"c":2132,"r":-0.8},{"c":2140,"r":1.1},{"c":2148,"r":-0.1},{"c":2156,"r":1.5},{"c":2164,"r":-2.0},{"c":2172,"r":0.7},{"c":2180,"r":-0.6},{"c":2188,"r":1.3},{"c":2196,"r":-1.5},{"c":2204,"r":0.1},{"c":2212,"r":0.8},{"c":2220,"r":-1.1},{"c":2228,"r":2.0},{"c":2236,"r":-0.3},{"c":2244,"r":0.6},{"c":2252,"r":-1.8},{"c":2260,"r":1.1},{"c":2268,"r":-0.7},{"c":2276,"r":-1.1},{"c":2284,"r":1.7},{"c":2292,"r":-0.3},{"c":2300,"r":0.8},{"c":2308,"r":-2.0},{"c":2316,"r":0.6},{"c":2324,"r":1.3},{"c":2332,"r":-0.7},{"c":2340,"r":0.3},{"c":2348,"r":-1.4},{"c":2356,"r":2.0},{"c":2364,"r":-0.4},{"c":2372,"r":0.7},{"c":2380,"r":-1.0},{"c":2388,"r":1.4},{"c":2396,"r":-1.7},{"c":2404,"r":0.0},{"c":2412,"r":1.0},{"c":2420,"r":-0.7},{"c":2428,"r":1.8},{"c":2436,"r":-1.3},{"c":2444,"r":0.4},{"c":2452,"r":-0.8},{"c":2460,"r":1.1},{"c":2468,"r":-0.1},{"c":2476,"r":1.5},{"c":2484,"r":-2.0},{"c":2492,"r":0.7},{"c":2500,"r":-0.6},{"c":2508,"r":1.3},{"c":2516,"r":-1.5},{"c":2524,"r":0.1},{"c":2532,"r":0.8},{"c":2540,"r":-1.1},{"c":2548,"r":2.0},{"c":2556,"r":-0.3},{"c":2564,"r":0.6},{"c":2572,"r":-1.8},{"c":2580,"r":1.1},{"c":2588,"r":-0.7},{"c":2596,"r":-1.1},{"c":2604,"r":1.7},{"c":2612,"r":-0.3},{"c":2620,"r":0.8},{"c":2628,"r":-2.0},{"c":2636,"r":0.6},{"c":2644,"r":1.3},{"c":2652,"r":-0.7},{"c":2660,"r":0.3},{"c":2668,"r":-1.4},{"c":2676,"r":2.0},{"c":2684,"r":-0.4},{"c":2692,"r":0.7},{"c":2700,"r":-1.0},
{"c":2708,"r":1.2},{"c":2716,"r":-1.3},{"c":2724,"r":0.1},{"c":2732,"r":1.0},{"c":2740,"r":-0.4},{"c":2748,"r":1.6},{"c":2756,"r":-1.0},{"c":2764,"r":0.5},{"c":2772,"r":-0.7},{"c":2780,"r":1.1},{"c":2788,"r":0.0},{"c":2796,"r":1.4},{"c":2804,"r":-1.7},{"c":2812,"r":0.7},{"c":2820,"r":-0.3},{"c":2828,"r":1.1},{"c":2836,"r":-1.2},{"c":2844,"r":0.2},{"c":2852,"r":0.8},{"c":2860,"r":-0.9},{"c":2868,"r":1.7},{"c":2876,"r":-0.2},{"c":2884,"r":0.5},{"c":2892,"r":-1.4},{"c":2900,"r":1.1},{"c":2908,"r":-0.5},{"c":2916,"r":-0.9},{"c":2924,"r":1.5},{"c":2932,"r":-0.2},{"c":2940,"r":0.9},{"c":2948,"r":-1.5},{"c":2956,"r":0.5},{"c":2964,"r":1.1},{"c":2972,"r":-0.5},{"c":2980,"r":0.3},{"c":2988,"r":-1.0},{"c":2996,"r":1.9},{"c":3004,"r":-0.3},
{"c":3012,"r":0.6},{"c":3020,"r":-0.4},{"c":3028,"r":1.0},{"c":3036,"r":-0.8},{"c":3044,"r":0.2},{"c":3052,"r":0.8},{"c":3060,"r":-0.2},{"c":3068,"r":1.3},{"c":3076,"r":-0.6},{"c":3084,"r":0.4},{"c":3092,"r":-0.3},{"c":3100,"r":0.9},{"c":3108,"r":0.1},{"c":3116,"r":1.1},{"c":3124,"r":-1.0},{"c":3132,"r":0.7},{"c":3140,"r":-0.1},{"c":3148,"r":1.0},{"c":3156,"r":-0.7},{"c":3164,"r":0.3},{"c":3172,"r":0.7},{"c":3180,"r":-0.5},{"c":3188,"r":1.3},{"c":3196,"r":0.1},{"c":3204,"r":0.5},{"c":3212,"r":-0.9},{"c":3220,"r":0.9},{"c":3228,"r":-0.3},{"c":3236,"r":-0.5},{"c":3244,"r":1.2},{"c":3252,"r":0.1},{"c":3260,"r":0.7},{"c":3268,"r":-0.9},{"c":3276,"r":0.5},{"c":3284,"r":1.0},{"c":3292,"r":-0.3},{"c":3300,"r":0.4},{"c":3308,"r":-0.6},{"c":3316,"r":1.4},{"c":3324,"r":0.0},{"c":3332,"r":0.6},{"c":3340,"r":-0.4},{"c":3348,"r":1.0},{"c":3356,"r":-0.8},{"c":3364,"r":0.2},{"c":3372,"r":0.8},{"c":3380,"r":-0.2},{"c":3388,"r":1.3},{"c":3396,"r":-0.6},{"c":3404,"r":0.4},
{"c":3412,"r":-0.2},{"c":3420,"r":0.8},{"c":3428,"r":0.2},{"c":3436,"r":1.0},{"c":3444,"r":-0.7},{"c":3452,"r":0.6},{"c":3460,"r":0.0},{"c":3468,"r":0.9},{"c":3476,"r":-0.5},{"c":3484,"r":0.3},{"c":3492,"r":0.7},{"c":3500,"r":-0.3},{"c":3508,"r":1.2},{"c":3516,"r":0.1},{"c":3524,"r":0.5},{"c":3532,"r":-0.6},{"c":3540,"r":0.8},{"c":3548,"r":-0.1},{"c":3556,"r":-0.3},{"c":3564,"r":1.0},{"c":3572,"r":0.1},{"c":3580,"r":0.7},{"c":3588,"r":-0.7},{"c":3596,"r":0.5},{"c":3604,"r":0.9},{"c":3612,"r":-0.1},{"c":3620,"r":0.4},{"c":3628,"r":-0.4},{"c":3636,"r":1.2},{"c":3644,"r":0.1},{"c":3652,"r":0.6},{"c":3660,"r":-0.2},{"c":3668,"r":0.9},{"c":3676,"r":-0.5},{"c":3684,"r":0.3},{"c":3692,"r":0.7},{"c":3700,"r":-0.1},{"c":3708,"r":1.1},{"c":3716,"r":-0.4},{"c":3724,"r":0.4},{"c":3732,"r":-0.2},{"c":3740,"r":0.8},{"c":3748,"r":0.2},{"c":3756,"r":1.0},{"c":3764,"r":-0.7},{"c":3772,"r":0.6},{"c":3780,"r":0.0},{"c":3788,"r":0.9},{"c":3796,"r":-0.5},{"c":3804,"r":0.3},{"c":3812,"r":0.7},{"c":3820,"r":-0.3},{"c":3828,"r":1.2},{"c":3836,"r":0.1},{"c":3844,"r":0.5},{"c":3852,"r":-0.6},{"c":3860,"r":0.8},{"c":3868,"r":-0.1},{"c":3876,"r":-0.3},{"c":3884,"r":1.0},{"c":3892,"r":0.1},{"c":3900,"r":0.7},{"c":3908,"r":-0.7},{"c":3916,"r":0.5},{"c":3924,"r":0.9},{"c":3932,"r":-0.1},{"c":3940,"r":0.4},{"c":3948,"r":-0.4},{"c":3956,"r":1.2},{"c":3964,"r":0.1},{"c":3972,"r":0.6},{"c":3980,"r":-0.2},{"c":3988,"r":0.9},{"c":3996,"r":-0.5},{"c":4004,"r":0.3},{"c":4012,"r":0.7},{"c":4020,"r":-0.1},{"c":4028,"r":1.1},{"c":4036,"r":-0.4},{"c":4044,"r":0.4},{"c":4052,"r":-0.2}],
"acf":[{"c":774,"a":0.170},{"c":777,"a":0.150},{"c":780,"a":0.178},{"c":783,"a":0.148},{"c":786,"a":0.168},{"c":789,"a":0.140},{"c":792,"a":0.162},{"c":796,"a":0.128},{"c":800,"a":0.140},{"c":804,"a":0.105},{"c":808,"a":0.082},{"c":812,"a":0.068},{"c":817,"a":0.110},{"c":822,"a":0.088},{"c":827,"a":0.108},{"c":832,"a":0.079},{"c":837,"a":0.118},
{"c":844,"a":0.111},{"c":854,"a":0.092},{"c":864,"a":0.119},{"c":874,"a":0.082},{"c":884,"a":0.102},{"c":894,"a":0.072},{"c":904,"a":0.105},{"c":914,"a":0.114},{"c":924,"a":0.090},{"c":934,"a":0.076},{"c":944,"a":0.101},{"c":954,"a":0.082},{"c":964,"a":0.119},{"c":974,"a":0.092},{"c":984,"a":0.078},{"c":994,"a":0.104},{"c":1004,"a":0.063},{"c":1014,"a":0.090},{"c":1024,"a":0.082},{"c":1034,"a":0.097},{"c":1044,"a":0.040},{"c":1054,"a":0.090},{"c":1064,"a":0.075},{"c":1074,"a":0.100},{"c":1084,"a":0.058},{"c":1094,"a":0.083},{"c":1104,"a":0.091},{"c":1114,"a":0.067},{"c":1124,"a":0.101},{"c":1134,"a":0.075},{"c":1144,"a":0.094},{"c":1154,"a":0.058},{"c":1164,"a":0.082},{"c":1174,"a":0.066},{"c":1184,"a":0.030},{"c":1194,"a":0.008},{"c":1204,"a":0.059},{"c":1214,"a":0.026},{"c":1224,"a":0.060},{"c":1234,"a":0.039},
{"c":1244,"a":0.046},{"c":1254,"a":0.077},{"c":1264,"a":0.060},{"c":1274,"a":0.035},{"c":1284,"a":0.069},{"c":1294,"a":0.051},{"c":1304,"a":0.028},{"c":1314,"a":0.066},{"c":1324,"a":0.080},{"c":1334,"a":0.041},{"c":1344,"a":0.057},{"c":1354,"a":0.048},{"c":1364,"a":0.071},{"c":1374,"a":0.023},{"c":1384,"a":0.092},{"c":1394,"a":0.076},{"c":1404,"a":0.033},{"c":1414,"a":0.042},{"c":1424,"a":0.062},{"c":1434,"a":0.026},{"c":1444,"a":0.050},{"c":1454,"a":0.012},{"c":1464,"a":0.056},{"c":1474,"a":0.047},{"c":1484,"a":0.026},{"c":1494,"a":0.065},{"c":1504,"a":0.037},{"c":1514,"a":0.042},{"c":1524,"a":0.016},{"c":1534,"a":0.061},{"c":1544,"a":0.052},{"c":1554,"a":0.028},{"c":1564,"a":0.069},{"c":1574,"a":0.031},{"c":1584,"a":0.017},{"c":1594,"a":0.045},{"c":1604,"a":0.044},{"c":1614,"a":0.026},{"c":1624,"a":0.064},{"c":1634,"a":0.012},
{"c":1644,"a":0.012},{"c":1654,"a":0.064},{"c":1664,"a":0.026},{"c":1674,"a":0.044},{"c":1684,"a":0.035},{"c":1694,"a":0.007},{"c":1704,"a":0.013},{"c":1714,"a":0.051},{"c":1724,"a":0.009},{"c":1734,"a":0.032},{"c":1744,"a":0.041},{"c":1754,"a":-0.004},{"c":1764,"a":0.021},{"c":1774,"a":0.015},{"c":1784,"a":0.043},{"c":1794,"a":0.004},{"c":1804,"a":0.024},{"c":1814,"a":0.033},{"c":1824,"a":-0.012},{"c":1834,"a":0.026},{"c":1844,"a":0.001},{"c":1854,"a":0.037},{"c":1864,"a":0.016},{"c":1874,"a":0.007},{"c":1884,"a":0.049},{"c":1894,"a":0.027},{"c":1904,"a":-0.005},{"c":1914,"a":0.033},{"c":1924,"a":0.010},{"c":1934,"a":0.018},{"c":1944,"a":0.002},{"c":1954,"a":0.038},{"c":1964,"a":0.024},{"c":1974,"a":-0.014},{"c":1984,"a":0.008},{"c":1994,"a":0.026},{"c":2004,"a":-0.008},{"c":2014,"a":0.017},{"c":2024,"a":0.033},{"c":2034,"a":0.002},
{"c":2044,"a":0.026},{"c":2054,"a":0.005},{"c":2064,"a":0.039},{"c":2074,"a":0.000},{"c":2084,"a":0.014},{"c":2094,"a":-0.023},{"c":2104,"a":0.017},{"c":2114,"a":0.004},{"c":2124,"a":0.028},{"c":2134,"a":-0.009},{"c":2144,"a":0.011},{"c":2154,"a":-0.015},{"c":2164,"a":0.019},{"c":2174,"a":-0.005},{"c":2184,"a":0.004},{"c":2194,"a":0.029},{"c":2204,"a":-0.015},{"c":2214,"a":0.010},{"c":2224,"a":-0.004},{"c":2234,"a":0.017},{"c":2244,"a":-0.010},{"c":2254,"a":0.005},{"c":2264,"a":-0.002},{"c":2274,"a":0.025},{"c":2284,"a":-0.011},{"c":2294,"a":0.016},{"c":2304,"a":0.003},{"c":2314,"a":-0.024},{"c":2324,"a":0.014},{"c":2334,"a":-0.004},{"c":2344,"a":0.021},{"c":2354,"a":0.008},{"c":2364,"a":-0.015},{"c":2374,"a":-0.006},{"c":2384,"a":0.028},{"c":2394,"a":-0.001},{"c":2404,"a":0.019},{"c":2414,"a":-0.017},{"c":2424,"a":0.010},{"c":2434,"a":-0.008},
{"c":2444,"a":0.008},{"c":2454,"a":-0.026},{"c":2464,"a":-0.008},{"c":2474,"a":0.020},{"c":2484,"a":-0.018},{"c":2494,"a":0.002},{"c":2504,"a":0.028},{"c":2514,"a":-0.014},{"c":2524,"a":-0.030},{"c":2534,"a":0.014},{"c":2544,"a":-0.004},{"c":2554,"a":0.006},{"c":2564,"a":-0.020},{"c":2574,"a":0.022},{"c":2584,"a":-0.012},{"c":2594,"a":-0.036},{"c":2604,"a":0.010},{"c":2614,"a":0.000},{"c":2624,"a":-0.022},{"c":2634,"a":0.018},{"c":2644,"a":-0.010},{"c":2654,"a":0.032},{"c":2664,"a":-0.016},{"c":2674,"a":-0.006},{"c":2684,"a":0.016},{"c":2694,"a":-0.028},{"c":2704,"a":0.004},{"c":2714,"a":-0.002},{"c":2724,"a":0.026},{"c":2734,"a":-0.024},{"c":2744,"a":-0.014},{"c":2754,"a":0.012},{"c":2764,"a":-0.034},{"c":2774,"a":0.008},{"c":2784,"a":0.024},{"c":2794,"a":-0.008},{"c":2804,"a":-0.018},{"c":2814,"a":0.002},{"c":2824,"a":-0.040},{"c":2834,"a":0.018},
{"c":2844,"a":0.009},{"c":2854,"a":-0.012},{"c":2864,"a":0.019},{"c":2874,"a":-0.023},{"c":2884,"a":0.000},{"c":2894,"a":-0.033},{"c":2904,"a":0.007},{"c":2914,"a":0.017},{"c":2924,"a":-0.010},{"c":2934,"a":-0.025},{"c":2944,"a":0.004},{"c":2954,"a":-0.017},{"c":2964,"a":0.028},{"c":2974,"a":-0.004},{"c":2984,"a":-0.019},{"c":2994,"a":0.013},{"c":3004,"a":-0.029},{"c":3014,"a":0.002},{"c":3024,"a":-0.006},{"c":3034,"a":0.011},{"c":3044,"a":-0.021},{"c":3054,"a":0.004},{"c":3064,"a":-0.012},{"c":3074,"a":0.017},{"c":3084,"a":-0.031},{"c":3094,"a":0.048},{"c":3104,"a":0.009},{"c":3114,"a":-0.019},{"c":3124,"a":0.021},{"c":3134,"a":-0.008},{"c":3144,"a":0.015},{"c":3154,"a":0.050},{"c":3164,"a":-0.027},{"c":3174,"a":-0.015},{"c":3184,"a":0.034},{"c":3194,"a":-0.010},{"c":3204,"a":0.007},{"c":3214,"a":-0.038},{"c":3224,"a":0.002},{"c":3234,"a":-0.023},
{"c":3244,"a":-0.040},{"c":3254,"a":0.019},{"c":3264,"a":0.001},{"c":3274,"a":-0.027},{"c":3284,"a":0.011},{"c":3294,"a":-0.009},{"c":3304,"a":-0.035},{"c":3314,"a":0.007},{"c":3324,"a":0.023},{"c":3334,"a":-0.021},{"c":3344,"a":-0.003},{"c":3354,"a":-0.013},{"c":3364,"a":0.013},{"c":3374,"a":-0.029},{"c":3384,"a":0.040},{"c":3394,"a":0.029},{"c":3404,"a":-0.017},{"c":3414,"a":-0.007},{"c":3424,"a":0.015},{"c":3434,"a":-0.025},{"c":3444,"a":0.003},{"c":3454,"a":-0.039},{"c":3464,"a":0.009},{"c":3474,"a":-0.001},{"c":3484,"a":-0.023},{"c":3494,"a":0.021},{"c":3504,"a":-0.011},{"c":3514,"a":-0.005},{"c":3524,"a":-0.033},{"c":3534,"a":0.017},{"c":3544,"a":0.007},{"c":3554,"a":-0.019},{"c":3564,"a":0.027},{"c":3574,"a":-0.015},{"c":3584,"a":-0.031},{"c":3594,"a":0.001},{"c":3604,"a":0.011},{"c":3614,"a":-0.009},{"c":3624,"a":0.033},{"c":3634,"a":-0.025},
{"c":3644,"a":-0.024},{"c":3654,"a":0.034},{"c":3664,"a":-0.008},{"c":3674,"a":0.012},{"c":3684,"a":0.002},{"c":3694,"a":-0.030},{"c":3704,"a":-0.014},{"c":3714,"a":0.028},{"c":3724,"a":-0.018},{"c":3734,"a":0.008},{"c":3744,"a":0.018},{"c":3754,"a":-0.032},{"c":3764,"a":-0.004},{"c":3774,"a":-0.010},{"c":3784,"a":0.022},{"c":3794,"a":-0.022},{"c":3804,"a":0.000},{"c":3814,"a":0.048},{"c":3824,"a":-0.038},{"c":3834,"a":0.004},{"c":3844,"a":-0.024},{"c":3854,"a":0.016},{"c":3864,"a":-0.006},{"c":3874,"a":-0.076},{"c":3884,"a":0.030},{"c":3894,"a":0.006},{"c":3904,"a":-0.028},{"c":3914,"a":0.014},{"c":3924,"a":-0.012},{"c":3934,"a":-0.002},{"c":3944,"a":-0.020},{"c":3954,"a":0.024},{"c":3964,"a":0.008},{"c":3974,"a":-0.034},{"c":3984,"a":-0.008},{"c":3994,"a":0.012},{"c":4004,"a":-0.026},{"c":4014,"a":0.002},{"c":4024,"a":0.020},{"c":4034,"a":0.045},{"c":4044,"a":0.010},{"c":4054,"a":-0.028}]
},
"spacing":60.5,
"bounds":"flush",
"vconcat":[
{"width":888,"height":398,
"layer":[
{"data":{"name":"decay"},"mark":{"type":"circle","size":17,"color":"#ff0000","opacity":1},
"encoding":{
"x":{"field":"c","type":"quantitative","scale":{"domain":[774,4056],"nice":false,"zero":false},
"axis":{"values":[774,1048,1321,1595,1868,2142,2415,2689,2962,3236,3509,3783,4056],"format":"d","labelFontSize":12,"domainWidth":2,"tickSize":4,"tickWidth":1.5,"labelPadding":5,"title":"Channels","titleFontSize":12,"titlePadding":9}},
"y":{"field":"n","type":"quantitative","scale":{"type":"log","domain":[1,100000],"nice":false},
"axis":{"values":[1,2,3,4,5,6,7,8,9,10,20,30,40,50,60,70,80,90,100,200,300,400,500,600,700,800,900,1000,2000,3000,4000,5000,6000,7000,8000,9000,10000,20000,30000,40000,50000,60000,70000,80000,90000,100000],
"labelExpr":"indexof([1,10,100,1000,10000,100000], datum.value) >= 0 ? '1E+0' + round(log(datum.value)/LN10) : ''",
"labelFontSize":12,"domainWidth":2,"tickSize":4,"tickWidth":1.5,"labelPadding":2,"title":"Counts","titleFontSize":12,"titleX":-68,"titleY":188,"titleAngle":270,"titleAlign":"center","titleBaseline":"middle"}}}},
{"data":{"name":"irf"},"mark":{"type":"circle","size":14,"color":"#0000ff","opacity":1},
"encoding":{"x":{"field":"c","type":"quantitative"},"y":{"field":"n","type":"quantitative"}}},
{"data":{"name":"fit"},"mark":{"type":"line","color":"#008000","strokeWidth":2,"interpolate":"monotone"},
"encoding":{"x":{"field":"c","type":"quantitative"},"y":{"field":"n","type":"quantitative"}}},
{"data":{"values":[{}]},"mark":{"type":"rect","fill":"#ffffff","stroke":"#000000","strokeWidth":2},
"encoding":{"x":{"datum":3375},"x2":{"datum":3923},"y":{"datum":126000},"y2":{"datum":74900}}},
{"data":{"values":[{}]},"mark":{"type":"text","font":"Liberation Mono","fontWeight":"bold","fontSize":13,"color":"#000000","align":"center","baseline":"middle"},
"encoding":{"x":{"datum":3649},"y":{"datum":97000},"text":{"value":"Chi.Sq. = 1.080741"}}}
]},
{"spacing":35,"bounds":"flush",
"vconcat":[
{"width":888,"height":110,"data":{"name":"resid"},
"mark":{"type":"line","color":"#008000","strokeWidth":1.6},
"encoding":{
"x":{"field":"c","type":"quantitative","scale":{"domain":[774,4056],"nice":false,"zero":false},
"axis":{"values":[1048,1321,1595,1868,2142,2415,2689,2962,3236,3509,3783,4056],"format":"d","labelFontSize":11,"domainColor":"#808080","domainWidth":1.5,"ticks":false,"tickSize":0,"labelPadding":6,"offset":-55,"title":null}},
"y":{"field":"r","type":"quantitative","scale":{"domain":[-6,6],"nice":false,"zero":false},
"axis":{"values":[-6,-4.5,-3,-1.5,0,1.5,3,4.5,6],"format":".1f","labelFontSize":10.5,"domainWidth":2,"tickSize":4,"tickWidth":1.5,"labelPadding":4,"title":"Std. Dev.","titleFontSize":11,"titleX":-58,"titleY":39,"titleAngle":270,"titleAlign":"center","titleBaseline":"middle"}}}},
{"width":888,"height":116,"data":{"name":"acf"},
"mark":{"type":"line","color":"#000080","strokeWidth":1.8},
"encoding":{
"x":{"field":"c","type":"quantitative","scale":{"domain":[774,4056],"nice":false,"zero":false},
"axis":{"values":[1048,1321,1595,1868,2142,2415,2689,2962,3236,3509,3783,4056],"labels":false,"domainColor":"#808080","domainWidth":1.5,"tickColor":"#404040","tickSize":-3,"tickWidth":1.5,"offset":-35.6,"title":null}},
"y":{"field":"a","type":"quantitative","scale":{"domain":[-0.08,0.18],"nice":false,"zero":false},
"axis":{"values":[0.18,0.147143,0.114286,0.081429,0.048571,0.015714,-0.017143,-0.05],"labelExpr":"format(floor(datum.value*100+0.000001)/100, '.2f')","labelFontSize":10.5,"domainWidth":2,"tickSize":4,"tickWidth":1.5,"labelPadding":4,"title":"Autocorrelation","titleFontSize":11,"titleX":-64.5,"titleY":36.4,"titleAngle":270,"titleAlign":"center","titleBaseline":"middle"}}}}
]}
]
}
